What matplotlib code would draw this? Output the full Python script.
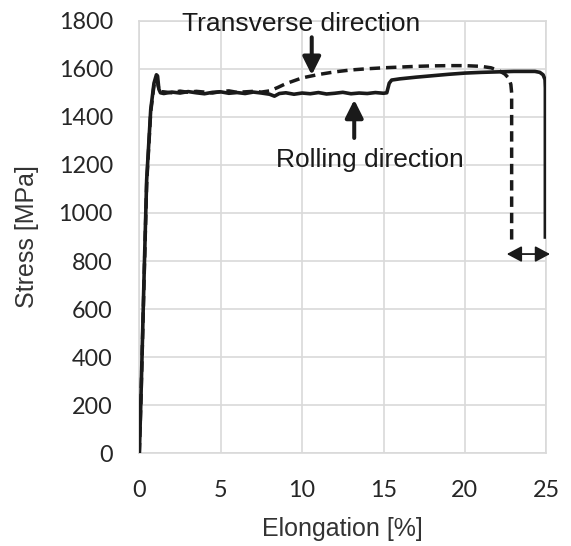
import matplotlib.pyplot as plt
from matplotlib.patches import ArrowStyle

# rolling direction (solid line)
roll_x = [0, 0.1, 0.3, 0.45, 0.7, 0.9, 1.05, 1.12, 1.2, 1.3,
          1.5, 2.0, 2.5, 3.0, 3.5, 4.0, 4.5, 5.0, 5.5, 6.0,
          6.5, 7.0, 7.5, 8.0, 8.3, 8.6, 9.0, 9.5, 10.0, 10.5,
          11.0, 11.5, 12.0, 12.5, 13.0, 13.5, 14.0, 14.5, 15.0, 15.2,
          15.35, 15.5, 16, 17, 18, 19, 20, 21, 22, 23,
          24, 24.3, 24.6, 24.8, 24.92, 24.94, 24.94]
roll_y = [0, 230, 760, 1137, 1430, 1540, 1575, 1570, 1515, 1500,
          1497, 1503, 1499, 1505, 1500, 1496, 1502, 1504, 1498, 1501,
          1497, 1503, 1499, 1494, 1486, 1497, 1500, 1494, 1499, 1496,
          1501, 1495, 1498, 1502, 1496, 1499, 1497, 1501, 1498, 1500,
          1540, 1553, 1558, 1565, 1571, 1577, 1582, 1585, 1587, 1589,
          1589, 1589, 1585, 1575, 1555, 1520, 900]

# transverse direction (dashed line)
trans_x = [0, 0.1, 0.3, 0.45, 0.7, 0.9, 1.0, 1.08, 1.15, 1.25,
           1.5, 2.0, 2.5, 3.0, 3.5, 4.0, 4.5, 5.0, 5.5, 6.0,
           6.5, 7.0, 7.5, 8.0, 8.5, 9.0, 10, 11, 12, 13,
           14, 15, 16, 17, 18, 19, 20, 21, 21.6, 22.1,
           22.45, 22.7, 22.82, 22.87, 22.87]
trans_y = [0, 220, 740, 1120, 1420, 1530, 1555, 1560, 1530, 1505,
           1504, 1500, 1507, 1502, 1506, 1503, 1499, 1505, 1508, 1502,
           1504, 1506, 1503, 1508, 1522, 1538, 1562, 1576, 1587, 1595,
           1600, 1604, 1607, 1610, 1612, 1613, 1613, 1610, 1604, 1592,
           1578, 1560, 1535, 1500, 880]

xticks = [0, 5, 10, 15, 20, 25]
yticks = [0, 200, 400, 600, 800, 1000, 1200, 1400, 1600, 1800]

fig = plt.figure(figsize=(5.71, 5.46), dpi=100)
ax = fig.add_axes([0.244, 0.1698, 0.7128, 0.7923])

ax.plot(roll_x, roll_y, color='#1a1a1a', lw=2.6, solid_joinstyle='round', zorder=3)
ax.plot(trans_x, trans_y, color='#1a1a1a', lw=2.5, ls=(0, (3.0, 1.7)), zorder=3)

ax.set_xlim(0, 25)
ax.set_ylim(0, 1800)
ax.set_xticks(xticks)
ax.set_yticks(yticks)
ax.grid(True, color='#d9d9d9', lw=1.2)
ax.set_axisbelow(True)
for s in ax.spines.values():
    s.set_color('#d9d9d9')
    s.set_linewidth(1.2)
ax.tick_params(length=0, pad=19, labelsize=16.8, labelcolor='#262626')
for lab in ax.get_xticklabels() + ax.get_yticklabels():
    lab.set_fontfamily('Lato')

lf = dict(family='Liberation Sans', size=18, color='#333333')
ax.set_xlabel('Elongation [%]', labelpad=12, **lf)
ax.set_ylabel('Stress [MPa]', labelpad=14, **lf)

tf = dict(family='Liberation Sans', size=19, color='#1a1a1a')
ax.text(9.96, 1759, 'Transverse direction', ha='center', va='baseline', **tf)
ax.text(14.17, 1191, 'Rolling direction', ha='center', va='baseline', **tf)

head = ArrowStyle('-|>', head_length=0.9, head_width=0.45)
ax.annotate('', xy=(10.59, 1574), xytext=(10.59, 1731),
            arrowprops=dict(arrowstyle=head, lw=2.9, color='#1a1a1a',
                            mutation_scale=12, shrinkA=0, shrinkB=0))
ax.annotate('', xy=(13.2, 1471), xytext=(13.2, 1312),
            arrowprops=dict(arrowstyle=head, lw=2.9, color='#1a1a1a',
                            mutation_scale=12, shrinkA=0, shrinkB=0))
both = ArrowStyle('<|-|>', head_length=0.75, head_width=0.4)
ax.annotate('', xy=(22.57, 829), xytext=(25.23, 829), annotation_clip=False,
            arrowprops=dict(arrowstyle=both, lw=1.3, color='#1a1a1a',
                            mutation_scale=12, shrinkA=0, shrinkB=0))

fig.savefig('out.png', dpi=100)
